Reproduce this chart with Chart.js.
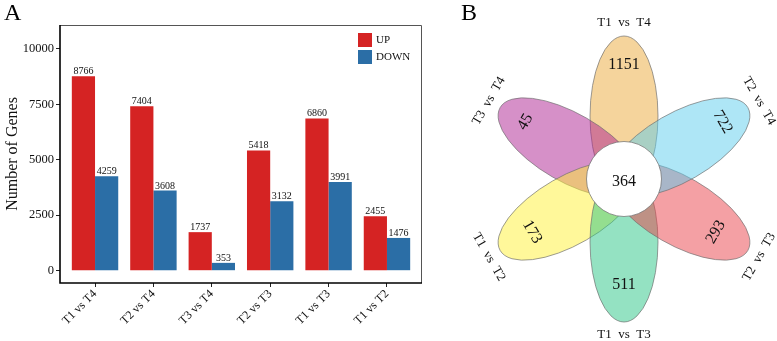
<!DOCTYPE html>
<html><head><meta charset="utf-8">
<script src="https://cdn.jsdelivr.net/npm/chart.js@4.4.1/dist/chart.umd.min.js"></script>
<style>
html,body{margin:0;padding:0;background:#fff;width:777px;height:341px;overflow:hidden}
#a{position:absolute;left:0;top:0;width:440px;height:341px}
#b{position:absolute;left:440px;top:0;width:337px;height:341px}
</style></head><body>
<div id="a"><canvas id="ca" width="440" height="341"></canvas></div>
<div id="b"><canvas id="cb" width="337" height="341"></canvas></div>
<script>
// ---- Panel A data ----
const comparisons = ['T1 vs T4','T2 vs T4','T3 vs T4','T2 vs T3','T1 vs T3','T1 vs T2'];
const upValues = [8766, 7404, 1737, 5418, 6860, 2455];
const downValues = [4259, 3608, 353, 3132, 3991, 1476];
const yTicks = [0, 2500, 5000, 7500, 10000];
const seriesNames = ['UP', 'DOWN'];
// ---- Panel B data ----
const vennSets = ['T1  vs  T4','T2  vs  T4','T2  vs  T3','T1  vs  T3','T1  vs  T2','T3  vs  T4'];
const vennUnique = [1151, 722, 293, 511, 173, 45];
const vennCore = 364;

const SERIF = '"Liberation Serif","Times New Roman",serif';
Chart.defaults.font.family = SERIF;
Chart.defaults.color = '#111';
const barColors = ['#D52323', '#2B6EA6'];

const decorA = {
  id: 'decorA',
  afterDraw(chart) {
    const ctx = chart.ctx, a = chart.chartArea;
    ctx.save();
    // frame
    ctx.strokeStyle = '#555'; ctx.lineWidth = 1;
    ctx.beginPath();
    ctx.moveTo(a.left, a.top + 0.5); ctx.lineTo(a.right - 0.5, a.top + 0.5); ctx.lineTo(a.right - 0.5, a.bottom);
    ctx.stroke();
    ctx.strokeStyle = '#000'; ctx.lineWidth = 1.6;
    ctx.beginPath();
    ctx.moveTo(a.left, a.top); ctx.lineTo(a.left, a.bottom); ctx.lineTo(a.right, a.bottom);
    ctx.stroke();
    // value labels
    ctx.fillStyle = '#111';
    ctx.font = '10px ' + SERIF;
    ctx.textAlign = 'center'; ctx.textBaseline = 'alphabetic';
    chart.data.datasets.forEach((ds, di) => {
      const meta = chart.getDatasetMeta(di);
      meta.data.forEach((el, i) => {
        ctx.fillText(String(ds.data[i].y), el.x, el.y - 2);
      });
    });
    // legend
    ctx.font = '11px ' + SERIF;
    ctx.textAlign = 'left'; ctx.textBaseline = 'middle';
    seriesNames.forEach((n, i) => {
      const y0 = 33 + i * 17;
      ctx.fillStyle = barColors[i];
      ctx.fillRect(358, y0, 14, 14);
      ctx.fillStyle = '#111';
      ctx.fillText(n, 376, y0 + 7);
    });
    // panel letter
    ctx.font = '24px ' + SERIF;
    ctx.textBaseline = 'alphabetic';
    ctx.fillStyle = '#000';
    ctx.fillText('A', 4, 20);
    ctx.restore();
  }
};

new Chart(document.getElementById('ca'), {
  type: 'bar',
  data: {
    datasets: [
      { label: seriesNames[0], data: upValues.map((v, i) => ({ x: i, y: v })), backgroundColor: barColors[0] },
      { label: seriesNames[1], data: downValues.map((v, i) => ({ x: i, y: v })), backgroundColor: barColors[1] }
    ]
  },
  options: {
    responsive: false, animation: false,
    categoryPercentage: 0.795, barPercentage: 1.0,
    layout: { padding: { top: 25, right: 18, left: 0, bottom: 0 } },
    plugins: { legend: { display: false }, tooltip: { enabled: false } },
    scales: {
      x: {
        type: 'linear', min: -0.6, max: 5.6, offset: false,
        afterBuildTicks: s => { s.ticks = comparisons.map((c, i) => ({ value: i })); },
        ticks: { callback: v => comparisons[v], minRotation: 45, maxRotation: 45, autoSkip: false, font: { size: 12 }, color: '#111', padding: 0 },
        grid: {
          offset: false, drawOnChartArea: false, drawTicks: true, tickLength: 4,
          color: c => (c.tick && Number.isInteger(c.tick.value)) ? '#222' : 'rgba(0,0,0,0)'
        },
        border: { display: false },
        afterFit: s => { s.height = 58; }
      },
      y: {
        min: -554, max: 11070,
        afterBuildTicks: s => { s.ticks = yTicks.map(v => ({ value: v })); },
        ticks: { callback: v => String(v), font: { size: 12.5 }, padding: 2, color: '#111' },
        grid: { drawOnChartArea: false, drawTicks: true, tickLength: 4, color: '#222' },
        border: { display: false },
        title: { display: true, text: 'Number of Genes', font: { size: 16 }, padding: { top: 3, bottom: 0 }, color: '#111' },
        afterFit: s => { s.width = 60; }
      }
    }
  },
  plugins: [decorA]
});

// ---- Panel B ----
const petalAngles = [0, 60, 120, 180, 240, 300];
const petalFills = [
  'rgba(235,169,57,0.5)',   // orange
  'rgba(93,205,237,0.5)',   // cyan
  'rgba(233,65,73,0.5)',    // red
  'rgba(41,197,133,0.5)',   // green
  'rgba(255,241,53,0.5)',   // yellow
  'rgba(173,33,145,0.5)'    // purple
];
const drawOrder = [0, 5, 4, 3, 2, 1];
const PET_D = 63, PET_A = 80, PET_B = 34, CORE_R = 37.5;

const vennPlugin = {
  id: 'venn',
  afterDatasetsDraw(chart) {
    const ctx = chart.ctx, xs = chart.scales.x, ys = chart.scales.y;
    const px = v => xs.getPixelForValue(v), py = v => ys.getPixelForValue(v);
    const unit = px(1) - px(0);
    ctx.save();
    drawOrder.forEach(i => {
      const th = petalAngles[i] * Math.PI / 180;
      const ex = px(PET_D * Math.sin(th)), ey = py(PET_D * Math.cos(th));
      ctx.beginPath();
      ctx.ellipse(ex, ey, PET_B * unit, PET_A * unit, th, 0, 2 * Math.PI);
      ctx.fillStyle = petalFills[i]; ctx.fill();
      ctx.strokeStyle = 'rgba(110,110,110,0.85)'; ctx.lineWidth = 0.8; ctx.stroke();
    });
    ctx.beginPath();
    ctx.arc(px(0), py(0), CORE_R * unit, 0, 2 * Math.PI);
    ctx.fillStyle = '#fff'; ctx.fill();
    ctx.strokeStyle = 'rgba(110,110,110,0.9)'; ctx.lineWidth = 0.8; ctx.stroke();

    ctx.fillStyle = '#111';
    ctx.textAlign = 'center'; ctx.textBaseline = 'middle';
    ctx.font = '16px ' + SERIF;
    ctx.fillText(String(vennCore), px(0), py(-3));
    vennUnique.forEach((v, i) => {
      const th = petalAngles[i] * Math.PI / 180;
      const r = Math.cos(th) > 0.1 ? 114 : 106;
      const rot = Math.cos(th) >= -0.01 ? th : th - Math.PI;
      ctx.save();
      ctx.translate(px(r * Math.sin(th)), py(r * Math.cos(th)));
      ctx.rotate(rot);
      ctx.fillText(String(v), 0, 0);
      ctx.restore();
    });
    ctx.font = '13px ' + SERIF;
    vennSets.forEach((s, i) => {
      const th = petalAngles[i] * Math.PI / 180;
      const r = 156;
      const rot = Math.cos(th) >= -0.01 ? th : th - Math.PI;
      ctx.save();
      ctx.translate(px(r * Math.sin(th)), py(r * Math.cos(th)));
      ctx.rotate(rot);
      ctx.fillText(s, 0, 0);
      ctx.restore();
    });
    ctx.font = '24px ' + SERIF;
    ctx.textAlign = 'left'; ctx.textBaseline = 'alphabetic';
    ctx.fillStyle = '#000';
    ctx.fillText('B', 21, 20);
    ctx.restore();
  }
};

new Chart(document.getElementById('cb'), {
  type: 'scatter',
  data: { datasets: [{ data: [{ x: 0, y: 0 }], pointRadius: 0 }] },
  options: {
    responsive: false, animation: false,
    layout: { padding: 0 },
    plugins: { legend: { display: false }, tooltip: { enabled: false } },
    scales: {
      x: { type: 'linear', min: -184, max: 153, display: false },
      y: { type: 'linear', min: -162, max: 179, display: false }
    }
  },
  plugins: [vennPlugin]
});
</script>
</body></html>
